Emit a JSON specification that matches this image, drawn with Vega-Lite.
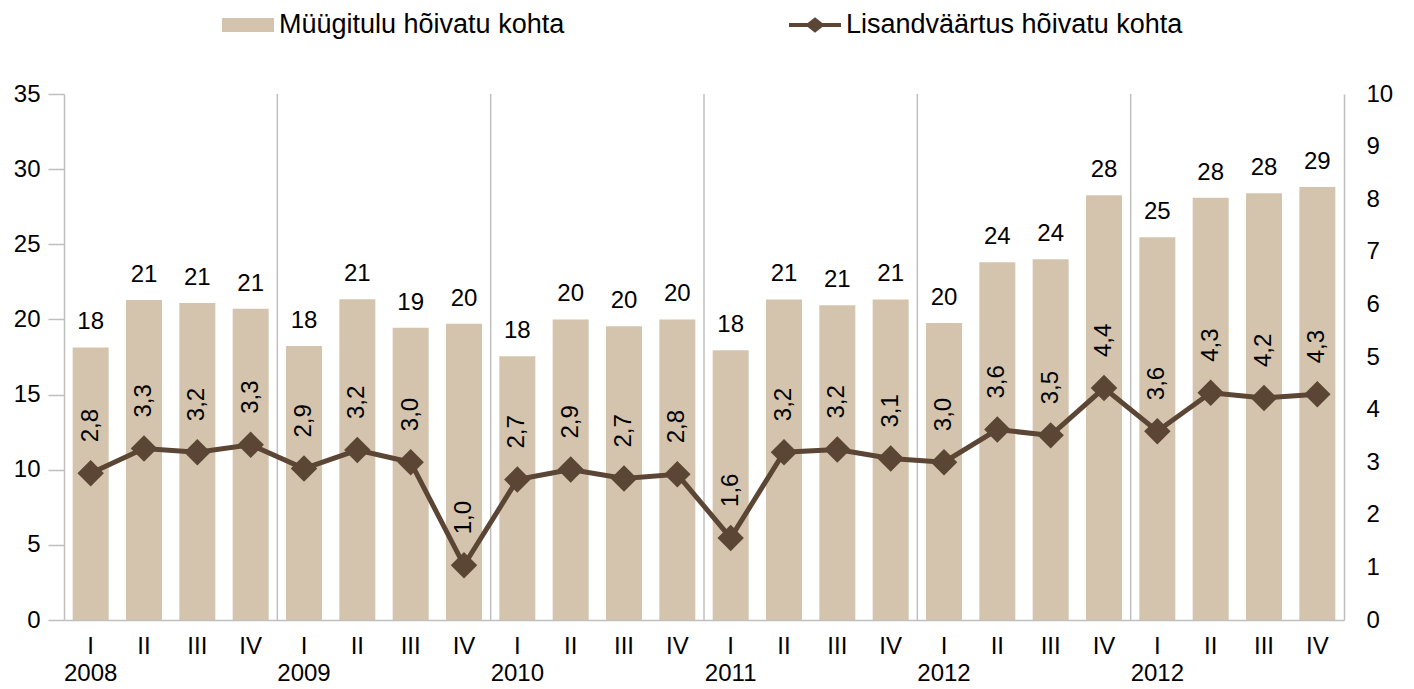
{
  "$schema": "https://vega.github.io/schema/vega-lite/v6.json",
  "width": 1280,
  "height": 526,
  "autosize": {"type": "none"},
  "padding": {"left": 64, "top": 94, "right": 70, "bottom": 69},
  "background": "white",
  "config": {
    "view": {"stroke": null},
    "font": "Liberation Sans",
    "locale": {"number": {"decimal": ",", "thousands": " ", "grouping": [3], "currency": ["", " €"]}},
    "axis": {"labelFont": "Liberation Sans", "labelFontSize": 24, "labelColor": "#000000", "domainColor": "#BFBFBF", "tickColor": "#BFBFBF", "domainWidth": 1.5, "tickWidth": 1.5, "grid": false, "title": null}
  },
  "data": {"values": [
    {"per": "2008 I", "q": "I", "sales": 18.14, "va": 2.79},
    {"per": "2008 II", "q": "II", "sales": 21.29, "va": 3.26},
    {"per": "2008 III", "q": "III", "sales": 21.09, "va": 3.19},
    {"per": "2008 IV", "q": "IV", "sales": 20.71, "va": 3.33},
    {"per": "2009 I", "q": "I", "sales": 18.23, "va": 2.88},
    {"per": "2009 II", "q": "II", "sales": 21.34, "va": 3.23},
    {"per": "2009 III", "q": "III", "sales": 19.45, "va": 3.0},
    {"per": "2009 IV", "q": "IV", "sales": 19.71, "va": 1.04},
    {"per": "2010 I", "q": "I", "sales": 17.55, "va": 2.67},
    {"per": "2010 II", "q": "II", "sales": 20.0, "va": 2.86},
    {"per": "2010 III", "q": "III", "sales": 19.55, "va": 2.69},
    {"per": "2010 IV", "q": "IV", "sales": 20.0, "va": 2.77},
    {"per": "2011 I", "q": "I", "sales": 17.95, "va": 1.56},
    {"per": "2011 II", "q": "II", "sales": 21.33, "va": 3.19},
    {"per": "2011 III", "q": "III", "sales": 20.95, "va": 3.24},
    {"per": "2011 IV", "q": "IV", "sales": 21.33, "va": 3.07},
    {"per": "2012 I", "q": "I", "sales": 19.77, "va": 3.0},
    {"per": "2012 II", "q": "II", "sales": 23.8, "va": 3.62},
    {"per": "2012 III", "q": "III", "sales": 24.0, "va": 3.51},
    {"per": "2012 IV", "q": "IV", "sales": 28.26, "va": 4.41},
    {"per": "2012b I", "q": "I", "sales": 25.46, "va": 3.59},
    {"per": "2012b II", "q": "II", "sales": 28.1, "va": 4.32},
    {"per": "2012b III", "q": "III", "sales": 28.39, "va": 4.22},
    {"per": "2012b IV", "q": "IV", "sales": 28.81, "va": 4.29}
  ]},
  "encoding": {
    "x": {
      "field": "per", "type": "ordinal", "sort": null,
      "scale": {"paddingInner": 0, "paddingOuter": 0},
      "axis": {
        "labelAngle": 0, "ticks": false, "labelPadding": 14, "labelLineHeight": 27, "labelBaseline": "top",
        "labelExpr": "split(datum.value, ' ')[1] == 'I' ? [split(datum.value, ' ')[1], replace(split(datum.value, ' ')[0], 'b', '')] : split(datum.value, ' ')[1]"
      }
    }
  },
  "layer": [
    {
      "layer": [
        {
          "mark": {"type": "bar", "width": {"band": 0.675}},
          "encoding": {
            "y": {"field": "sales", "type": "quantitative", "scale": {"domain": [0, 35], "nice": false},
              "axis": {"values": [0, 5, 10, 15, 20, 25, 30, 35], "tickSize": 16, "labelPadding": 8, "orient": "left"}},
            "color": {"datum": "Müügitulu hõivatu kohta", "type": "nominal",
              "scale": {"domain": ["Müügitulu hõivatu kohta", "Lisandväärtus hõivatu kohta"], "range": ["#D5C4AD", "#5B4535"]},
              "legend": {
                "title": null, "orient": "none", "legendX": 158, "legendY": -95, "direction": "horizontal", "columns": 2,
                "gridAlign": "each", "columnPadding": 224, "symbolSize": 2704, "labelOffset": 5, "padding": 0, "labelLimit": 0,
                "labelFont": "Liberation Sans", "labelFontSize": 27, "labelColor": "#000000",
                "encode": {"symbols": {"update": {
                  "shape": {"signal": "datum.value == 'Müügitulu hõivatu kohta' ? 'M-1,-0.27H1V0.27H-1Z' : 'M-1,-0.075L-0.28,-0.075L0,-0.3L0.28,-0.075L1,-0.075L1,0.075L0.28,0.075L0,0.3L-0.28,0.075L-1,0.075Z'"},
                  "fill": {"scale": "color", "field": "value"},
                  "strokeWidth": {"value": 0},
                  "opacity": {"value": 1}
                }}}
              }}
          }
        },
        {
          "mark": {"type": "text", "baseline": "alphabetic", "dy": -18, "fontSize": 24, "color": "#000000", "font": "Liberation Sans"},
          "encoding": {
            "y": {"field": "sales", "type": "quantitative"},
            "text": {"field": "sales", "type": "quantitative", "format": ".0f"}
          }
        },
        {
          "transform": [{"filter": "datum.q == 'I' && datum.per != '2008 I'"}],
          "mark": {"type": "rule", "color": "#BFBFBF", "strokeWidth": 1.5},
          "encoding": {"x": {"field": "per", "type": "ordinal", "sort": null, "bandPosition": 0}}
        }
      ]
    },
    {
      "layer": [
        {
          "mark": {"type": "line", "strokeWidth": 5, "point": {"shape": "diamond", "size": 700, "filled": true}},
          "encoding": {
            "y": {"field": "va", "type": "quantitative", "scale": {"domain": [0, 10], "nice": false},
              "axis": {"orient": "right", "values": [0, 1, 2, 3, 4, 5, 6, 7, 8, 9, 10], "ticks": false, "labelPadding": 22, "labelAlign": "left"}},
            "color": {"datum": "Lisandväärtus hõivatu kohta", "type": "nominal"}
          }
        },
        {
          "mark": {"type": "text", "angle": 270, "align": "left", "baseline": "middle", "dx": 31, "fontSize": 24, "color": "#000000", "font": "Liberation Sans"},
          "encoding": {
            "y": {"field": "va", "type": "quantitative"},
            "text": {"field": "va", "type": "quantitative", "format": ".1f"}
          }
        }
      ]
    }
  ],
  "resolve": {"scale": {"y": "independent"}}
}
